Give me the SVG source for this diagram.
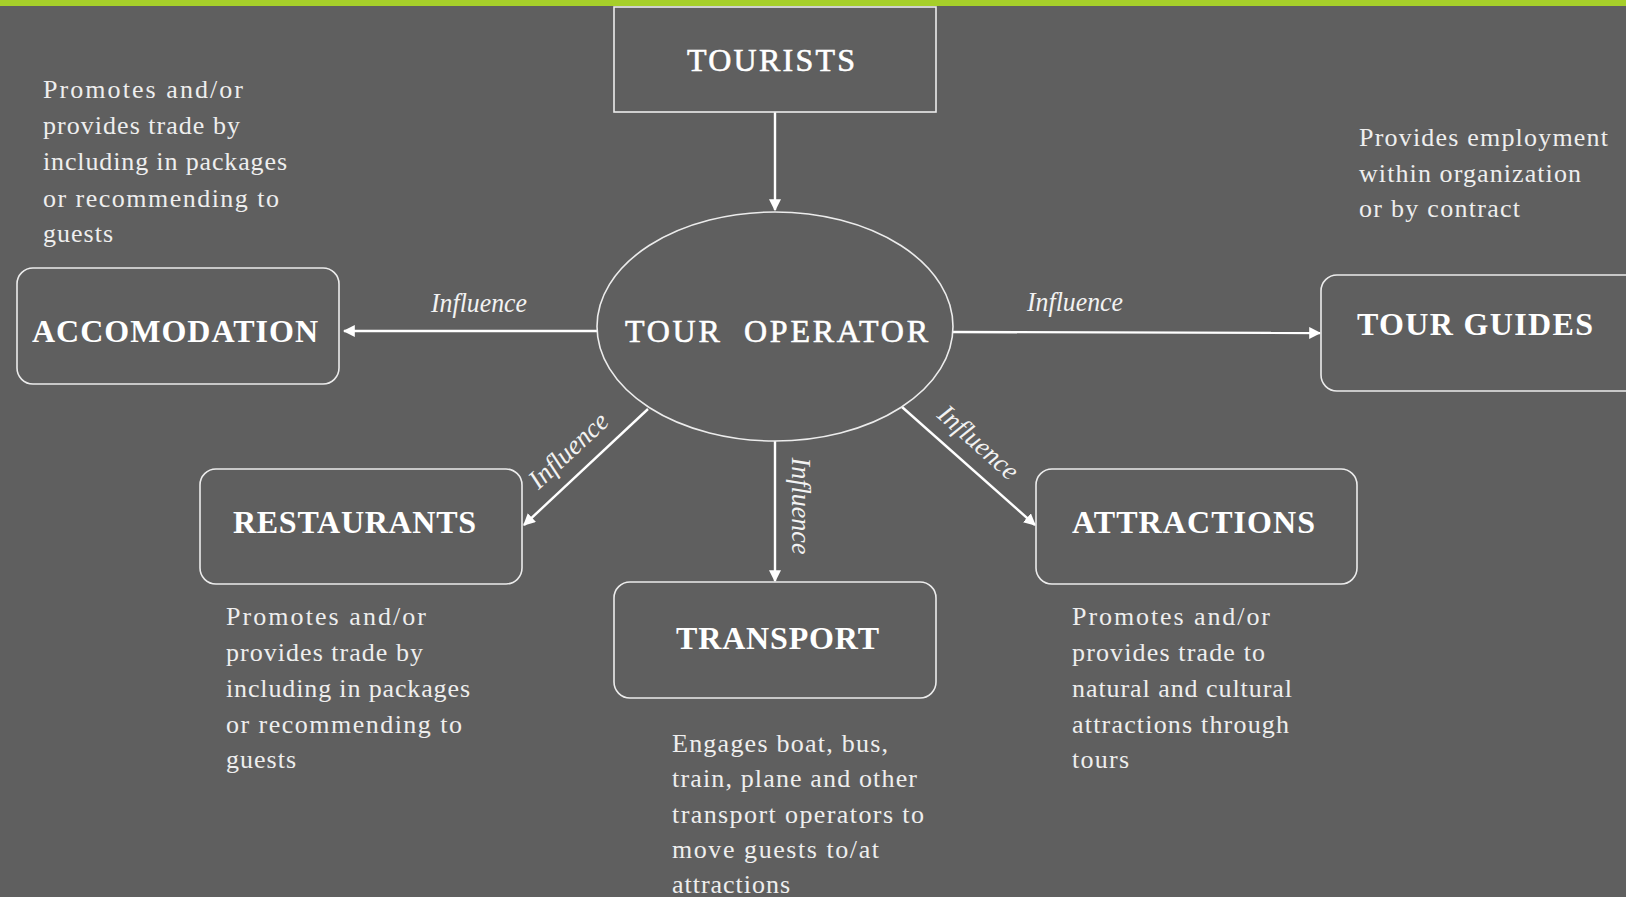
<svg xmlns="http://www.w3.org/2000/svg" width="1626" height="897" viewBox="0 0 1626 897">
  <style>
    .bg { fill: #5f5f5f; }
    .bar { fill: #a6cf2a; }
    .box { fill: none; stroke: #ececec; stroke-width: 1.6; }
    .head { font-family: "Liberation Serif", "DejaVu Serif", serif; fill: #ffffff; font-size: 32px; }
    .semi { stroke: #ffffff; stroke-width: 0.6; }
    .bold { font-weight: bold; }
    .note { font-family: "Liberation Serif", "DejaVu Serif", serif; fill: #eeeeee; font-size: 26px; }
    .lbl { font-family: "Liberation Serif", "DejaVu Serif", serif; font-style: italic; fill: #f2f2f2; font-size: 27px; }
    .wire { stroke: #ffffff; stroke-width: 2.4; fill: none; }
  </style>
  <defs>
    <marker id="head" viewBox="0 0 10 10" refX="9" refY="5" markerWidth="5" markerHeight="5" markerUnits="strokeWidth" orient="auto">
      <path d="M0,0 L10,5 L0,10 z" fill="#ffffff"/>
    </marker>
  </defs>

  <rect class="bg" x="0" y="0" width="1626" height="897"/>
  <rect class="bar" x="0" y="0" width="1626" height="6"/>

  <!-- connectors -->
  <g id="connectors">
    <line class="wire" x1="775" y1="112" x2="775" y2="210" marker-end="url(#head)"/>
    <line class="wire" x1="597" y1="331" x2="344" y2="331" marker-end="url(#head)"/>
    <line class="wire" x1="953" y1="332" x2="1320" y2="333" marker-end="url(#head)"/>
    <line class="wire" x1="648" y1="409" x2="524" y2="525" marker-end="url(#head)"/>
    <line class="wire" x1="775" y1="441" x2="775" y2="581" marker-end="url(#head)"/>
    <line class="wire" x1="902" y1="407" x2="1035" y2="525" marker-end="url(#head)"/>

    <text class="lbl" x="431" y="312" textLength="96" lengthAdjust="spacingAndGlyphs">Influence</text>
    <text class="lbl" x="1027" y="311" textLength="96" lengthAdjust="spacingAndGlyphs">Influence</text>
    <text class="lbl" transform="translate(569,451) rotate(-43)" x="0" y="8" text-anchor="middle" textLength="98" lengthAdjust="spacingAndGlyphs">Influence</text>
    <text class="lbl" transform="translate(800,506) rotate(90)" x="0" y="8" text-anchor="middle" textLength="97" lengthAdjust="spacingAndGlyphs">Influence</text>
    <text class="lbl" transform="translate(978,443) rotate(41.6)" x="0" y="8" text-anchor="middle" textLength="98" lengthAdjust="spacingAndGlyphs">Influence</text>
  </g>

  <g id="tourists">
    <rect class="box" x="614" y="7" width="322" height="105"/>
    <text class="head semi" x="687" y="71" font-size="33" textLength="168" lengthAdjust="spacing">TOURISTS</text>
  </g>

  <g id="tour-operator">
    <ellipse class="box" cx="775" cy="326.5" rx="178" ry="114.5"/>
    <text class="head semi" x="625" y="342" font-size="34" textLength="303" lengthAdjust="spacing" xml:space="preserve">TOUR  OPERATOR</text>
  </g>

  <g id="accomodation">
    <rect class="box" x="17" y="268" width="322" height="116" rx="16"/>
    <text class="head bold" x="32" y="342" textLength="286" lengthAdjust="spacing">ACCOMODATION</text>
    <g class="note">
      <text x="43" y="98" textLength="200" lengthAdjust="spacing">Promotes and/or</text>
      <text x="43" y="134" textLength="197" lengthAdjust="spacing">provides trade by</text>
      <text x="43" y="170" textLength="244" lengthAdjust="spacing">including in packages</text>
      <text x="43" y="207" textLength="236" lengthAdjust="spacing">or recommending to</text>
      <text x="43" y="242" textLength="70" lengthAdjust="spacing">guests</text>
    </g>
  </g>

  <g id="tour-guides">
    <rect class="box" x="1321" y="275" width="330" height="116" rx="16"/>
    <text class="head bold" x="1357" y="335" textLength="236" lengthAdjust="spacing">TOUR GUIDES</text>
    <g class="note">
      <text x="1359" y="146" textLength="249" lengthAdjust="spacing">Provides employment</text>
      <text x="1359" y="182" textLength="222" lengthAdjust="spacing">within organization</text>
      <text x="1359" y="217" textLength="161" lengthAdjust="spacing">or by contract</text>
    </g>
  </g>

  <g id="restaurants">
    <rect class="box" x="200" y="469" width="322" height="115" rx="16"/>
    <text class="head bold" x="233" y="533" textLength="243" lengthAdjust="spacing">RESTAURANTS</text>
    <g class="note">
      <text x="226" y="625" textLength="200" lengthAdjust="spacing">Promotes and/or</text>
      <text x="226" y="661" textLength="197" lengthAdjust="spacing">provides trade by</text>
      <text x="226" y="697" textLength="244" lengthAdjust="spacing">including in packages</text>
      <text x="226" y="733" textLength="236" lengthAdjust="spacing">or recommending to</text>
      <text x="226" y="768" textLength="70" lengthAdjust="spacing">guests</text>
    </g>
  </g>

  <g id="transport">
    <rect class="box" x="614" y="582" width="322" height="116" rx="16"/>
    <text class="head bold" x="676" y="649" textLength="203" lengthAdjust="spacing">TRANSPORT</text>
    <g class="note">
      <text x="672" y="752" textLength="216" lengthAdjust="spacing">Engages boat, bus,</text>
      <text x="672" y="787" textLength="245" lengthAdjust="spacing">train, plane and other</text>
      <text x="672" y="823" textLength="252" lengthAdjust="spacing">transport operators to</text>
      <text x="672" y="858" textLength="207" lengthAdjust="spacing">move guests to/at</text>
      <text x="672" y="893" textLength="118" lengthAdjust="spacing">attractions</text>
    </g>
  </g>

  <g id="attractions">
    <rect class="box" x="1036" y="469" width="321" height="115" rx="16"/>
    <text class="head bold" x="1072" y="533" textLength="243" lengthAdjust="spacing">ATTRACTIONS</text>
    <g class="note">
      <text x="1072" y="625" textLength="198" lengthAdjust="spacing">Promotes and/or</text>
      <text x="1072" y="661" textLength="193" lengthAdjust="spacing">provides trade to</text>
      <text x="1072" y="697" textLength="220" lengthAdjust="spacing">natural and cultural</text>
      <text x="1072" y="733" textLength="217" lengthAdjust="spacing">attractions through</text>
      <text x="1072" y="768" textLength="57" lengthAdjust="spacing">tours</text>
    </g>
  </g>
</svg>
